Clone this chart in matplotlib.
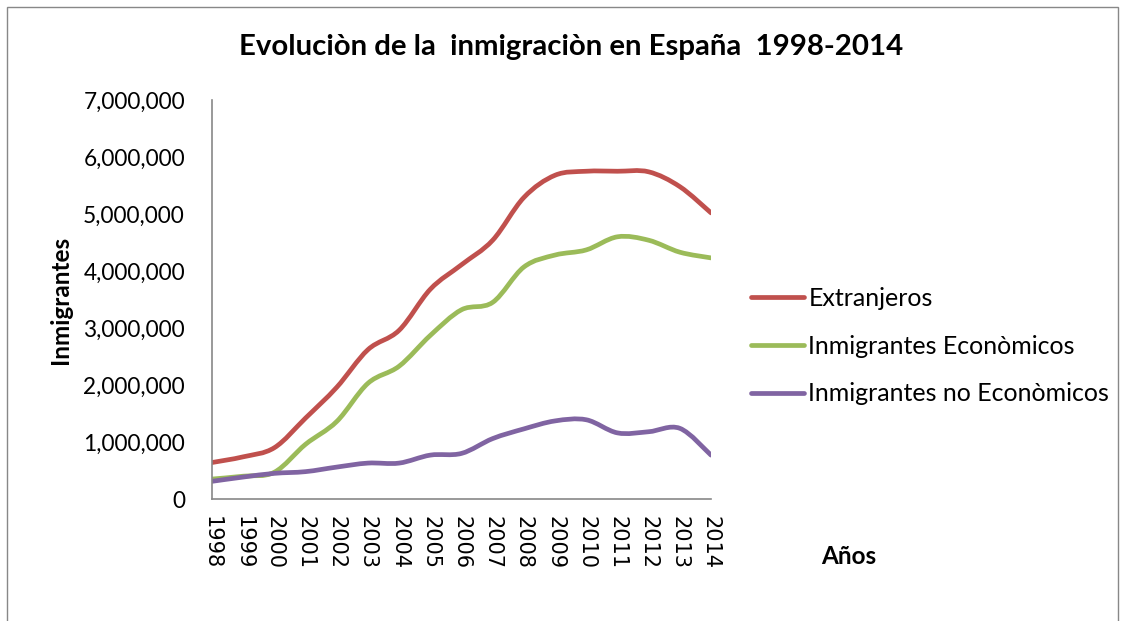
import matplotlib
matplotlib.use("Agg")
import matplotlib.pyplot as plt
from matplotlib.path import Path
from matplotlib.patches import PathPatch, Rectangle
from matplotlib.lines import Line2D
from matplotlib.ticker import FuncFormatter
import numpy as np

years = [1998, 1999, 2000, 2001, 2002, 2003, 2004, 2005, 2006, 2007,
         2008, 2009, 2010, 2011, 2012, 2013, 2014]
extranjeros = [640000, 740000, 900000, 1420000, 1960000, 2620000, 2960000,
               3680000, 4110000, 4540000, 5290000, 5680000, 5750000, 5750000,
               5740000, 5480000, 5020000]
economicos = [350000, 400000, 470000, 960000, 1360000, 2030000, 2330000,
              2870000, 3320000, 3450000, 4070000, 4280000, 4370000, 4600000,
              4540000, 4330000, 4230000]
no_economicos = [310000, 385000, 450000, 480000, 560000, 630000, 630000,
                 770000, 800000, 1060000, 1230000, 1370000, 1390000, 1160000,
                 1180000, 1240000, 770000]

series_names = ["Extranjeros", "Inmigrantes Econòmicos", "Inmigrantes no Econòmicos"]
colors = ["#C0504D", "#9BBB59", "#8064A2"]
title = "Evoluciòn de la  inmigraciòn en España  1998-2014"

plt.rcParams['font.family'] = ['Lato', 'DejaVu Sans']

W, H = 1125, 621
fig = plt.figure(figsize=(W / 100, H / 100), dpi=100)
ax = fig.add_axes([212 / W, 1 - 499 / H, (711 - 212) / W, (499 - 100) / H])

# outer border of chart area
fig.patches.append(Rectangle((7 / W, -0.05), (1118 - 7) / W, 1 - 7 / H + 0.05,
                             transform=fig.transFigure, fill=False,
                             edgecolor="#888888", linewidth=1.0))


def smooth_path(xs, ys):
    xs = np.asarray(xs, float)
    ys = np.asarray(ys, float)
    n = len(xs)
    verts = [(xs[0], ys[0])]
    codes = [Path.MOVETO]
    for i in range(n - 1):
        p0 = np.array([xs[max(i - 1, 0)], ys[max(i - 1, 0)]])
        p1 = np.array([xs[i], ys[i]])
        p2 = np.array([xs[i + 1], ys[i + 1]])
        p3 = np.array([xs[min(i + 2, n - 1)], ys[min(i + 2, n - 1)]])
        c1 = p1 + (p2 - p0) / 6.0
        c2 = p2 - (p3 - p1) / 6.0
        verts += [tuple(c1), tuple(c2), tuple(p2)]
        codes += [Path.CURVE4] * 3
    return Path(verts, codes)


xs = np.arange(len(years))
for vals, col in zip([extranjeros, economicos, no_economicos], colors):
    patch = PathPatch(smooth_path(xs, vals), facecolor="none", edgecolor=col,
                      linewidth=3.4, capstyle="round", joinstyle="round")
    ax.add_patch(patch)

ax.set_xlim(0, len(years) - 1)
ax.set_ylim(0, 7000000)
ax.set_xticks(xs)
ax.set_xticklabels([str(y) for y in years], rotation=270, fontsize=15,
                   family=['DejaVu Sans'])
ax.set_yticks(np.arange(0, 7000001, 1000000))
ax.yaxis.set_major_formatter(FuncFormatter(lambda v, p: f"{int(v):,}"))
ax.tick_params(axis="y", length=0, pad=19.5, labelsize=16.3)
ax.tick_params(axis="x", length=0, pad=12)

for s in ["top", "right"]:
    ax.spines[s].set_visible(False)
for s in ["left", "bottom"]:
    ax.spines[s].set_color("#888888")
    ax.spines[s].set_linewidth(1.2)

fig.text(571 / W, 1 - 47 / H, title, ha="center", va="center",
         fontsize=21.2, fontweight="bold")
fig.text(60 / W, 1 - 300 / H, "Inmigrantes", rotation=90, ha="center",
         va="center", fontsize=17.5, fontweight="bold")
fig.text(849 / W, 1 - 557 / H, "Años", ha="center", va="center",
         fontsize=17.5, fontweight="bold")

handles = [Line2D([], [], color=c, linewidth=3.4, solid_capstyle="round")
           for c in colors]
leg = fig.legend(handles, series_names, loc="center left",
                 bbox_to_anchor=(751 / W, 1 - 346 / H), frameon=False,
                 fontsize=18, handlelength=2.1, handletextpad=0.2,
                 labelspacing=0.99, borderaxespad=0, borderpad=0)

fig.savefig("out.png", dpi=100)
